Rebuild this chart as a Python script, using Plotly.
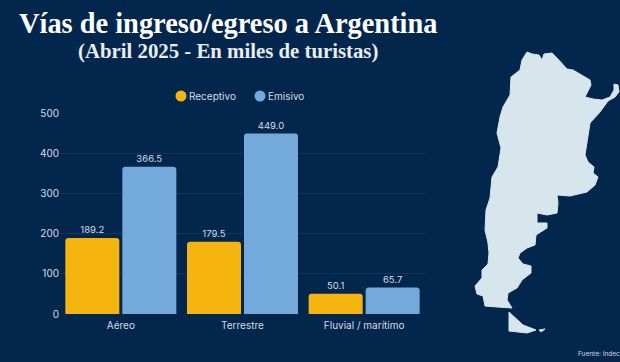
import plotly.graph_objects as go

categories = ["Aéreo", "Terrestre", "Fluvial / marítimo"]
receptivo = [189.2, 179.5, 50.1]
emisivo = [366.5, 449.0, 65.7]
y_ticks = [0, 100, 200, 300, 400, 500]
legend_names = ["Receptivo", "Emisivo"]

# Silhouette of Argentina
map_x = [527,532,539,542,544,552,557,567,573,590,591,585,593,602,610,614,614,618,619,615,608,600,590,587,585,588,594,593,598,595,587,570,557,
         558,557,547,537,537,547,547,542,536,535,527,520,518,523,531,531,522,517,508,507,512,497,485,483,477,475,482,482,488,489,488,485,486,490,
         492,498,501,497,500,503,510,511,520,522,527]
map_y = [52,54,55,60,54,53,58,69,70,80,85,97,99,100,97,90,84,85,92,97,101,112,123,140,155,162,167,173,177,185,192,196,195,
         203,213,215,213,223,223,228,231,235,245,248,253,258,264,266,273,280,288,293,300,308,307,306,296,294,286,278,270,264,253,243,230,210,198,
         177,167,148,133,117,107,95,77,70,60,52]
tdf_x = [509,515,523,536,527,509,509]
tdf_y = [312,318,325,330,333,331,312]
isle_x = [539,545,541,539]
isle_y = [330,329,332,330]

BG = "#03264c"
YEL = "#f6b40e"
BLU = "#74a9dc"
LAND = "#d6e6ec"
TXT = "#d5dde6"
SANS = "Inter, 'Open Sans', sans-serif"
SERIF = "'Liberation Serif', serif"
W, H = 620, 362

fig = go.Figure()
for name, vals, col in [(legend_names[0], receptivo, YEL), (legend_names[1], emisivo, BLU)]:
    fig.add_trace(go.Bar(name=name, x=categories, y=vals, marker_color=col, marker_line_width=0,
                         text=[f"{v:.1f}" for v in vals], textposition="outside", cliponaxis=False,
                         textfont=dict(size=9.5, color=TXT, family=SANS), showlegend=False))

for xs, ys in [(map_x, map_y), (tdf_x, tdf_y), (isle_x, isle_y)]:
    fig.add_trace(go.Scatter(x=xs, y=ys, xaxis="x2", yaxis="y2", mode="lines", fill="toself",
                             fillcolor=LAND, line=dict(color=LAND, width=1), showlegend=False, hoverinfo="skip"))

def circle(cx, cy, r, col):
    return dict(type="circle", xref="paper", yref="paper", x0=(cx-r)/W, x1=(cx+r)/W,
                y0=1-(cy+r)/H, y1=1-(cy-r)/H, fillcolor=col, line_width=0)

def label(text, px, py, size, color, family=SANS, anchor="left"):
    return dict(text=text, x=px/W, y=1-py/H, xref="paper", yref="paper", showarrow=False,
                font=dict(family=family, size=size, color=color), xanchor=anchor, yanchor="middle",
                borderpad=0, borderwidth=0)

fig.update_layout(
    width=W, height=H, autosize=False,
    margin=dict(l=0, r=0, t=0, b=0, autoexpand=False),
    paper_bgcolor=BG, plot_bgcolor="rgba(0,0,0,0)", showlegend=False,
    barmode="group", bargap=0.063, bargroupgap=0.0526, barcornerradius=3,
    font=dict(family=SANS, color=TXT),
    xaxis=dict(domain=[60/W, 425/W], anchor="y", showgrid=False, ticks="", ticklabelstandoff=4,
               tickfont=dict(size=10, color=TXT), showline=False),
    yaxis=dict(domain=[48/H, 249/H], anchor="x", range=[0, 500], tickvals=y_ticks,
               gridcolor="#0e3560", gridwidth=1, zeroline=False, ticks="",
               tickfont=dict(size=10, color=TXT)),
    xaxis2=dict(domain=[0, 1], anchor="y2", range=[0, W], visible=False),
    yaxis2=dict(domain=[0, 1], anchor="x2", range=[H, 0], visible=False),
    shapes=[circle(181, 96, 5.5, YEL), circle(260, 96, 5.5, BLU)],
    annotations=[
        label("<b>Vías de ingreso/egreso a Argentina</b>", 228, 23, 28.4, "#ffffff", SERIF, "center"),
        label("<b>(Abril 2025 - En miles de turistas)</b>", 228, 51, 20.8, "#e8edf2", SERIF, "center"),
        label(legend_names[0], 189, 96, 10, TXT),
        label(legend_names[1], 268, 96, 10, TXT),
        label("Fuente: Indec", 620, 354, 6.5, TXT, SANS, "right"),
    ],
)
fig.write_html("out.html", config={"displayModeBar": False},
               post_script="document.body.style.margin='0';document.body.style.overflow='hidden';")
